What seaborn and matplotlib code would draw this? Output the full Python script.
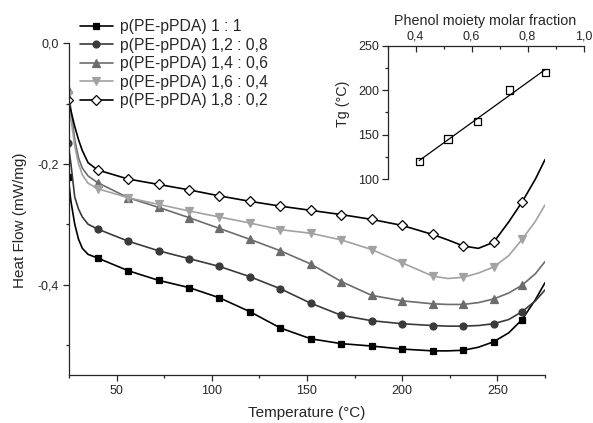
import matplotlib
matplotlib.use("Agg")
import matplotlib.pyplot as plt
import numpy as np
import pandas as pd
import seaborn as sns
from matplotlib.ticker import MultipleLocator, FuncFormatter

temperature = [24.5, 26, 28, 30, 32, 35, 40, 56, 72, 88, 104, 120, 136, 152, 168,
               184, 200, 216, 224, 232, 240, 248, 256, 263, 270, 275]
# temperatures that carry a symbol
marker_temps = [24.5, 40, 56, 72, 88, 104, 120, 136, 152, 168, 184, 200, 216, 232, 248, 263]

hf_1_1 = [-0.221, -0.262, -0.300, -0.325, -0.340, -0.350, -0.356, -0.377, -0.393, -0.405,
          -0.422, -0.445, -0.472, -0.490, -0.498, -0.502, -0.507, -0.510, -0.510, -0.509,
          -0.504, -0.495, -0.480, -0.458, -0.425, -0.397]
hf_12_08 = [-0.166, -0.200, -0.255, -0.275, -0.288, -0.300, -0.308, -0.328, -0.344, -0.357,
            -0.370, -0.387, -0.407, -0.431, -0.451, -0.460, -0.465, -0.468, -0.469, -0.469,
            -0.468, -0.465, -0.458, -0.445, -0.427, -0.409]
hf_14_06 = [-0.075, -0.110, -0.160, -0.190, -0.207, -0.220, -0.231, -0.256, -0.272, -0.289,
            -0.307, -0.325, -0.344, -0.366, -0.395, -0.418, -0.427, -0.432, -0.433, -0.433,
            -0.430, -0.424, -0.414, -0.401, -0.382, -0.362]
hf_16_04 = [-0.085, -0.125, -0.170, -0.200, -0.218, -0.232, -0.241, -0.256, -0.267, -0.278,
            -0.288, -0.298, -0.309, -0.315, -0.326, -0.342, -0.364, -0.386, -0.390, -0.388,
            -0.381, -0.371, -0.352, -0.325, -0.295, -0.268]
hf_18_02 = [-0.094, -0.112, -0.138, -0.160, -0.178, -0.198, -0.210, -0.225, -0.234, -0.243,
            -0.253, -0.262, -0.270, -0.277, -0.284, -0.292, -0.302, -0.317, -0.326, -0.336,
            -0.340, -0.330, -0.296, -0.263, -0.225, -0.193]

labels = ["p(PE-pPDA) 1 : 1", "p(PE-pPDA) 1,2 : 0,8", "p(PE-pPDA) 1,4 : 0,6",
          "p(PE-pPDA) 1,6 : 0,4", "p(PE-pPDA) 1,8 : 0,2"]

# inset: Tg vs phenol fraction
phenol_frac = [0.413, 0.516, 0.621, 0.737, 0.863]
tg = [120, 145, 165, 200, 220]

sns.set_style("ticks")
plt.rcParams["font.family"] = ["Liberation Sans", "DejaVu Sans"]

comma = FuncFormatter(lambda v, p: f"{v + 0.0:.1f}".replace(".", ","))

fig = plt.figure(figsize=(5.93, 4.23), dpi=100)
ax = fig.add_axes([0.1164, 0.1135, 0.8026, 0.7841])

styles = [
    (hf_1_1, "black", "s", "black", 4.8),
    (hf_12_08, "#3a3a3a", "o", "#3a3a3a", 5.0),
    (hf_14_06, "#6c6c6c", "^", "#6c6c6c", 5.5),
    (hf_16_04, "#a2a2a2", "v", "#a2a2a2", 5.5),
    (hf_18_02, "black", "D", "white", 4.6),
]
mark_idx = [temperature.index(t) for t in marker_temps]

for (vals, col, mk, face, ms), lab in zip(styles, labels):
    df = pd.DataFrame({"T": temperature, "HF": vals})
    sns.lineplot(data=df, x="T", y="HF", ax=ax, color=col, lw=1.2, marker=mk,
                 markersize=ms, markerfacecolor=face, markeredgecolor=col,
                 markeredgewidth=0.9, markevery=mark_idx, label=lab,
                 estimator=None, sort=False)

ax.set_xlim(25, 275)
ax.set_ylim(-0.55, 0.0)
ax.xaxis.set_major_locator(MultipleLocator(50))
ax.xaxis.set_minor_locator(MultipleLocator(25))
ax.yaxis.set_major_locator(MultipleLocator(0.2))
ax.yaxis.set_minor_locator(MultipleLocator(0.1))
ax.yaxis.set_major_formatter(comma)
ax.tick_params(which="major", direction="out", length=4, width=0.9, labelsize=9, pad=3)
ax.tick_params(which="minor", direction="out", length=2.5, width=0.9)
for s in ["top", "right"]:
    ax.spines[s].set_visible(False)
for s in ["left", "bottom"]:
    ax.spines[s].set_linewidth(0.9)
ax.set_xlabel("Temperature (°C)", fontsize=11)
ax.set_ylabel("Heat Flow (mW/mg)", fontsize=11)
ax.xaxis.set_label_coords(0.5, -0.093)
ax.yaxis.set_label_coords(-0.088, 0.467)

ax.legend(loc="upper left", bbox_to_anchor=(80 / 593, 1 - 19 / 423),
          bbox_transform=fig.transFigure, frameon=False, fontsize=11.3,
          handlelength=2.1, handletextpad=0.45, labelspacing=0.23,
          borderpad=0, borderaxespad=0)

# inset
axi = fig.add_axes([0.6535, 0.5768, 0.3305, 0.3156])
axi.patch.set_alpha(0)
sns.scatterplot(x=phenol_frac, y=tg, ax=axi, marker="s", s=27,
                facecolor="none", edgecolor="black", linewidth=0.9, zorder=3)
slope, icpt = np.polyfit(phenol_frac, tg, 1)
fit_x = np.array([min(phenol_frac), max(phenol_frac)])
sns.lineplot(x=fit_x, y=slope * fit_x + icpt, ax=axi, color="black", lw=0.9)

axi.set_xlim(0.3, 1.0)
axi.set_ylim(100, 250)
axi.xaxis.tick_top()
axi.xaxis.set_label_position("top")
axi.xaxis.set_major_locator(MultipleLocator(0.2))
axi.xaxis.set_minor_locator(MultipleLocator(0.1))
axi.xaxis.set_major_formatter(comma)
axi.yaxis.set_major_locator(MultipleLocator(50))
axi.yaxis.set_minor_locator(MultipleLocator(25))
axi.tick_params(axis="x", which="major", direction="in", length=4, width=0.9, labelsize=9, pad=2)
axi.tick_params(axis="x", which="minor", direction="in", length=2.5, width=0.9)
axi.tick_params(axis="y", which="major", direction="out", length=4, width=0.9, labelsize=9, pad=2)
axi.tick_params(axis="y", which="minor", direction="out", length=2.5, width=0.9)
for s in ["bottom", "right"]:
    axi.spines[s].set_visible(False)
for s in ["top", "left"]:
    axi.spines[s].set_linewidth(0.9)
axi.set_xlabel("Phenol moiety molar fraction", fontsize=10.3)
axi.set_ylabel("Tg (°C)", fontsize=10.3)
axi.xaxis.set_label_coords(0.5, 1.15)
axi.yaxis.set_label_coords(-0.19, 0.56)

fig.savefig("out.png", dpi=100)
